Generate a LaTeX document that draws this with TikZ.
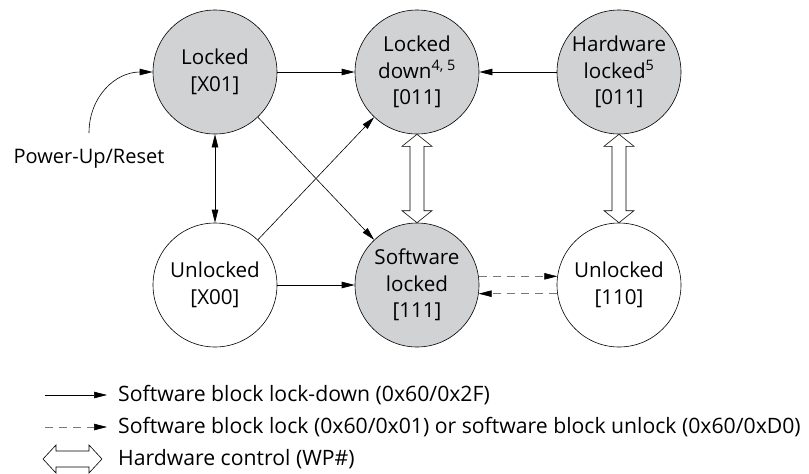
\documentclass[tikz,border=0pt]{standalone}
\usepackage{fontspec}
\setmainfont{Open Sans}
\usetikzlibrary{arrows.meta,calc}
\definecolor{statefill}{RGB}{209,210,212}
\definecolor{dashgray}{RGB}{120,120,120}
\newcommand\hollowv[2]{%
  \draw[hw] (#1) -- ($(#1)+(15,12)$) -- ($(#1)+(7,12)$) -- ($(#2)+(7,-12)$) -- ($(#2)+(15,-12)$)
   -- (#2) -- ($(#2)+(-15,-12)$) -- ($(#2)+(-7,-12)$) -- ($(#1)+(-7,12)$) -- ($(#1)+(-15,12)$) -- cycle;}
\begin{document}
\begin{tikzpicture}[x=1pt,y=-1pt,
  every node/.style={font=\fontsize{20}{27}\selectfont},
  state/.style={circle,draw,line width=0.6pt,minimum size=124pt,inner sep=0pt,align=center,
    font=\fontsize{20.6}{26.5}\selectfont},
  grey/.style={fill=statefill},
  tr/.style={line width=0.6pt,-{Triangle[length=13pt,width=6.5pt]}},
  trb/.style={line width=0.6pt,{Triangle[length=13pt,width=6.5pt]}-{Triangle[length=13pt,width=6.5pt]}},
  dsh/.style={line width=0.6pt,dashgray,dash pattern=on 8pt off 6pt,
    -{Triangle[length=13pt,width=6.5pt,color=black]}},
  hw/.style={line width=0.6pt,draw=black,fill=white,line join=miter},
  legtext/.style={anchor=west,inner sep=0pt,font=\fontsize{21.2}{27}\selectfont}
]
\useasboundingbox (0,0) rectangle (809,474);

\node[state,grey] (L)  at (215,72) {Locked\\{[X01]}};
\node[state,grey] (LD) at (417,72) {Locked\\down\textsuperscript{4, 5}\\{[011]}};
\node[state,grey] (HL) at (619,72) {Hardware\\locked\textsuperscript{5}\\{[011]}};
\node[state] (U0) at (215,285) {Unlocked\\{[X00]}};
\node[state,grey] (SL) at (417,285) {Software\\locked\\{[111]}};
\node[state] (U1) at (619,285) {Unlocked\\{[110]}};

\coordinate (pu) at (89,133);
\node (putext) at (89,159) {Power-Up/Reset};
\draw[tr] (pu) .. controls (89,97) and (115,72) .. (L.west);

\draw[tr] (L) -- (LD);
\draw[tr] (HL) -- (LD);
\draw[trb] (L) -- (U0);
\draw[tr] (L) -- (SL);
\draw[tr] (U0) -- (LD);
\draw[tr] (U0) -- (SL);
\draw[dsh] (SL.8) -- (U1.172);
\draw[dsh] (U1.-172) -- (SL.-8);

\hollowv{LD.south}{SL.north}
\hollowv{HL.south}{U1.north}

% legend
\coordinate (l1a) at (45,395); \coordinate (l1b) at (107,395);
\draw[tr] (l1a) -- (l1b);
\node[legtext] (t1) at (118,395) {Software block lock-down (0x60/0x2F)};
\coordinate (l2a) at (45,427); \coordinate (l2b) at (107,427);
\draw[dsh] (l2a) -- (l2b);
\node[legtext] (t2) at (118,427) {Software block lock (0x60/0x01) or software block unlock (0x60/0xD0)};
\coordinate (l3a) at (43,459); \coordinate (l3b) at (102,459);
\draw[hw] (l3a) -- ++(13,-14) -- ++(0,6) -- ($(l3b)+(-13,-8)$) -- ++(0,-6) -- (l3b)
  -- ++(-13,14) -- ++(0,-6) -- ($(l3a)+(13,8)$) -- ++(0,6) -- cycle;
\node[legtext] (t3) at (118,459) {Hardware control (WP\#)};
\end{tikzpicture}
\end{document}
